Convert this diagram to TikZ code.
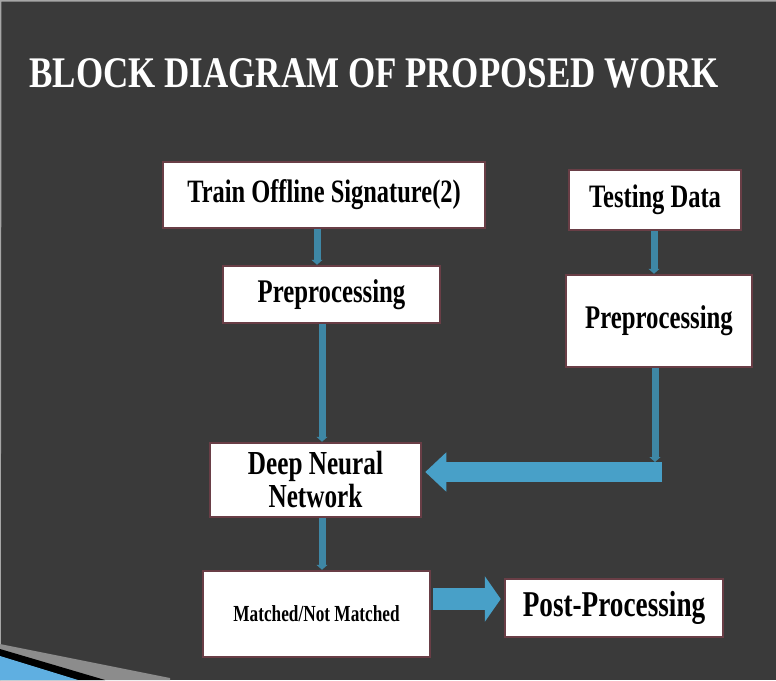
\documentclass[tikz,border=0pt]{standalone}
\usepackage{fontspec}
\usepackage{graphicx}
\setmainfont{Liberation Serif}
\usetikzlibrary{arrows.meta,calc}
\definecolor{bgc}{RGB}{58,58,58}
\definecolor{boxline}{RGB}{105,62,70}
\definecolor{thinblue}{RGB}{62,135,165}
\definecolor{bigblue}{RGB}{72,160,200}
\definecolor{decoblue}{RGB}{95,175,225}
\definecolor{decogray}{RGB}{140,140,140}
\newcommand{\sqz}[1]{\scalebox{0.75}[1]{#1}}
\newcommand{\sqzt}[1]{\scalebox{0.8}[1]{#1}}
\tikzset{
  blk/.style={draw=boxline, line width=2.5pt, fill=white, inner sep=0pt, font=\bfseries},
  thinconn/.style={draw=thinblue, line width=7pt, -{Triangle[width=11pt,length=5pt]}},
  bigconn/.style={draw=bigblue, line width=20pt},
}
\begin{document}
\begin{tikzpicture}[x=1pt,y=-1pt]
\fill[bgc] (0,0) rectangle (776,680);
\useasboundingbox (0,0) rectangle (776,680);
\draw[gray!70, line width=1.5pt] (0,680) -- (0.75,0.75) -- (776,0.75);
% bottom-left decoration
\fill[decogray] (0,644) -- (170,678) -- (170,680) -- (0,680) -- cycle;
\fill[black] (0,649) -- (105,680) -- (0,680) -- cycle;
\fill[decoblue] (0,656) -- (78,680) -- (0,680) -- cycle;
% title
\node[text=white, font=\fontsize{43.7}{48}\selectfont\bfseries, anchor=west] (title) at (26,73) {\sqzt{BLOCK DIAGRAM OF PROPOSED WORK}};
% boxes
\node[blk, minimum width=322pt, minimum height=66pt, font=\fontsize{32.6}{36}\selectfont\bfseries] (A) at (324,195) {\sqz{Train Offline Signature(2)}};
\node[blk, minimum width=217pt, minimum height=57pt, font=\fontsize{33}{36}\selectfont\bfseries] (B) at (331.5,294.5) {\sqz{Preprocessing}};
\node[blk, minimum width=172pt, minimum height=60pt, font=\fontsize{32.7}{36}\selectfont\bfseries] (C) at (655,200) {\sqz{Testing Data}};
\node[blk, minimum width=186pt, minimum height=92pt, font=\fontsize{33}{36}\selectfont\bfseries] (D) at (659,321) {\sqz{Preprocessing}};
\node[blk, minimum width=211pt, minimum height=74pt, align=center, font=\fontsize{33.6}{33}\selectfont\bfseries] (E) at (315.5,480) {\sqz{Deep Neural}\\\sqz{Network}};
\node[blk, minimum width=227pt, minimum height=86pt, font=\fontsize{23}{26}\selectfont\bfseries] (F) at (316.5,614) {\sqz{Matched/Not Matched}};
\node[blk, minimum width=218pt, minimum height=58pt, font=\fontsize{36.3}{40}\selectfont\bfseries] (G) at (614,608) {\sqz{Post-Processing}};
% connector guide coordinates
\coordinate (L1) at (317,0);
\coordinate (L2) at (322,0);
\coordinate (R1) at (654,0);
\coordinate (R2) at (655,472);
\coordinate (Rend) at (662,472);
\coordinate (FG) at (0,599);
% thin connectors
\draw[thinconn] (A.south -| L1) -- (B.north -| L1);
\draw[thinconn] (B.south -| L2) -- (E.north -| L2);
\draw[thinconn] (C.south -| R1) -- (D.north -| R1);
\draw[thinconn] (E.south -| L2) -- (F.north -| L2);
% big arrows
\draw[bigconn, -{Triangle[width=38pt,length=21pt]}] (Rend) -- ([xshift=3pt]E.east |- Rend);
\draw[thinconn] (D.south -| R2) -- ([yshift=10pt]R2);
\draw[bigconn, line width=22pt, -{Triangle[width=45pt,length=16pt]}] ([xshift=2pt]F.east |- FG) -- ([xshift=-3pt]G.west |- FG);
\end{tikzpicture}
\end{document}
